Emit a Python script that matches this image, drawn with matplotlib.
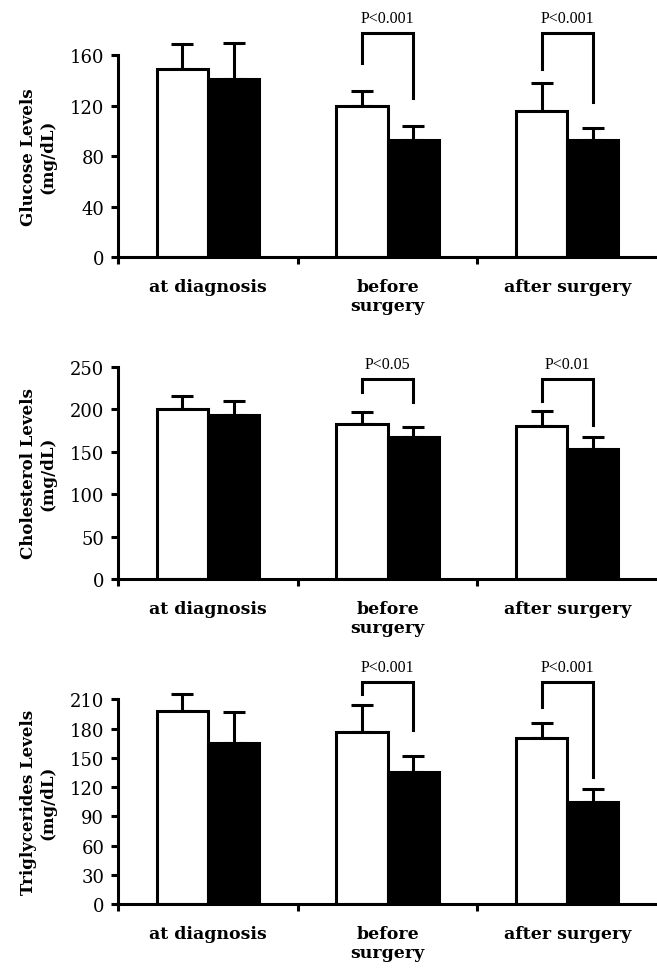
import numpy as np
import matplotlib
matplotlib.use("Agg")
import matplotlib.pyplot as plt

# groups on the x axis
categories = ["at diagnosis", "before\nsurgery", "after surgery"]

# glucose (mg/dL)
glucose_white = [149, 120, 116]
glucose_white_err = [20, 12, 22]
glucose_black = [141, 93, 93]
glucose_black_err = [29, 11, 9]
glucose_ticks = [0, 40, 80, 120, 160]

# cholesterol (mg/dL)
chol_white = [200, 183, 180]
chol_white_err = [16, 14, 18]
chol_black = [193, 167, 153]
chol_black_err = [16, 12, 14]
chol_ticks = [0, 50, 100, 150, 200, 250]

# triglycerides (mg/dL)
trig_white = [198, 177, 170]
trig_white_err = [17, 27, 16]
trig_black = [165, 135, 105]
trig_black_err = [32, 17, 13]
trig_ticks = [0, 30, 60, 90, 120, 150, 180, 210]

# significance brackets: (group index, text, top, left end, right end)
glucose_sig = [(1, "P<0.001", 178, 154, 126), (2, "P<0.001", 178, 149, 123)]
chol_sig = [(1, "P<0.05", 236, 220, 208), (2, "P<0.01", 236, 209, 181)]
trig_sig = [(1, "P<0.001", 228, 215, 179), (2, "P<0.001", 228, 202, 130)]

LW = 2.2
SERIF = "DejaVu Serif"
TIMES = "Liberation Serif"

fig = plt.figure(figsize=(6.57, 9.70), dpi=100)

panels = [
    ("Glucose Levels\n(mg/dL)", glucose_white, glucose_white_err, glucose_black,
     glucose_black_err, glucose_ticks, glucose_sig, [0.18, 0.734, 0.82, 0.208]),
    ("Cholesterol Levels\n(mg/dL)", chol_white, chol_white_err, chol_black,
     chol_black_err, chol_ticks, chol_sig, [0.18, 0.402, 0.82, 0.219]),
    ("Triglycerides Levels\n(mg/dL)", trig_white, trig_white_err, trig_black,
     trig_black_err, trig_ticks, trig_sig, [0.18, 0.067, 0.82, 0.211]),
]

width = 0.285
x = np.arange(len(categories))

for label, w, werr, b, berr, ticks, sig, rect in panels:
    ax = fig.add_axes(rect)
    ek = dict(elinewidth=LW, capsize=8, capthick=LW, ecolor="black", clip_on=False, zorder=1)
    ax.bar(x - width / 2, w, width, color="white", edgecolor="black", linewidth=LW,
           yerr=[np.zeros(3), werr], error_kw=ek, zorder=2)
    ax.bar(x + width / 2, b, width, color="black", edgecolor="black", linewidth=LW,
           yerr=[np.zeros(3), berr], error_kw=ek, zorder=2)

    ax.set_xlim(-0.5, 2.5)
    ax.set_ylim(0, ticks[-1])
    ax.set_yticks(ticks)
    ax.set_yticklabels([str(t) for t in ticks], family=SERIF, fontsize=13)

    ax.set_xticks([-0.5, 0.5, 1.5])
    ax.set_xticklabels([])
    ax.set_xticks(x, minor=True)
    ax.set_xticklabels(categories, minor=True, family=SERIF, fontweight="bold",
                       fontsize=12.5, linespacing=1.15, va="top")
    ax.tick_params(axis="x", which="minor", length=0, pad=15)
    ax.tick_params(axis="x", which="major", length=5, width=LW, direction="out")
    ax.tick_params(axis="y", length=5, width=LW, direction="out", pad=5)

    for s in ["top", "right"]:
        ax.spines[s].set_visible(False)
    for s in ["left", "bottom"]:
        ax.spines[s].set_linewidth(LW)

    ax.set_ylabel(label, family=SERIF, fontweight="bold", fontsize=12, linespacing=1.2)
    ax.yaxis.set_label_coords(-0.115, 0.5)

    for gi, txt, top, lend, rend in sig:
        xl = gi - width / 2
        xr = gi + width / 2
        ax.plot([xl, xl, xr, xr], [lend, top, top, rend], color="black", lw=LW,
                clip_on=False, solid_joinstyle="miter")
        ax.annotate(txt, (gi, top), xytext=(0, 5), textcoords="offset points",
                    ha="center", va="bottom", family=TIMES, fontsize=11.5,
                    annotation_clip=False)

fig.savefig("out.png", dpi=100)
